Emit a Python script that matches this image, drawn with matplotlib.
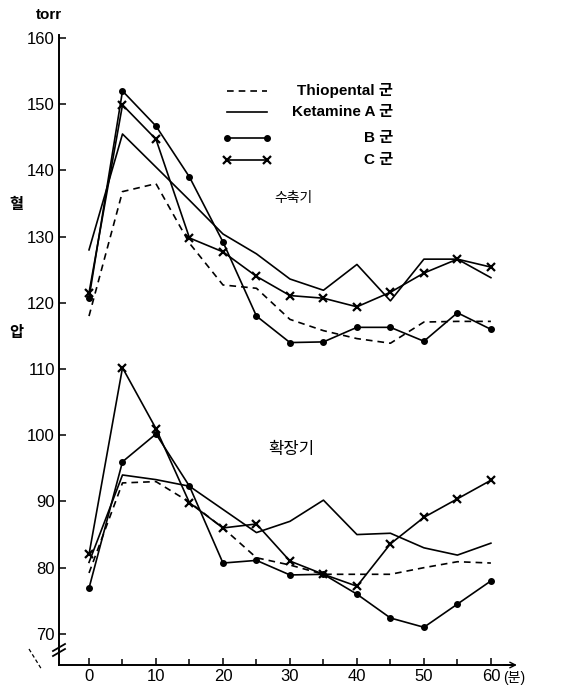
import matplotlib
matplotlib.use("Agg")
import matplotlib.pyplot as plt
from matplotlib.lines import Line2D

plt.rcParams['font.family'] = ['Liberation Sans', 'Noto Sans CJK KR']

# ---- data ----
minutes = [0, 5, 10, 15, 20, 25, 30, 35, 40, 45, 50, 55, 60]
sys_thio = [118, 136.8, 138, 129, 122.7, 122.2, 117.5, 115.8, 114.6, 113.9, 117.1, 117.2, 117.2]
sys_A = [128, 145.5, 140.5, 135.5, 130.4, 127.4, 123.6, 121.9, 125.8, 120.3, 126.6, 126.6, 123.8]
sys_B = [120.7, 152, 146.7, 139, 129.2, 118, 114, 114.1, 116.3, 116.3, 114.2, 118.5, 116]
sys_C = [121.5, 149.9, 144.7, 129.8, 127.7, 124, 121.1, 120.7, 119.4, 121.6, 124.5, 126.6, 125.4]

dia_thio = [79.2, 92.8, 93, 89.9, 86, 81.5, 80.4, 79, 79, 79, 80, 80.9, 80.7]
dia_A = [80.8, 94, 93.3, 92.3, 88.8, 85.3, 87, 90.2, 85, 85.2, 83, 81.9, 83.7]
dia_B = [76.9, 96, 100.2, 92.3, 80.7, 81.1, 78.9, 79, 76, 72.4, 71, 74.5, 78]
dia_C = [82, 110.2, 101, 89.8, 86, 86.6, 81, 79, 77.2, 83.6, 87.6, 90.4, 93.2]

y_ticks = [70, 80, 90, 100, 110, 120, 130, 140, 150, 160]
x_ticks = [0, 10, 20, 30, 40, 50, 60]
x_minor = [5, 15, 25, 35, 45, 55]
legend_labels = ["Thiopental 군", "Ketamine A 군", "B 군", "C 군"]

W, H = 567, 690
fig = plt.figure(figsize=(W / 100, H / 100), dpi=100)
fig.patch.set_facecolor('white')

def px(x, y):
    return x / W, 1 - y / H

ax = fig.add_axes([59 / W, 1 - 665 / H, (513 - 59) / W, (665 - 34.7) / H])
ax.set_xlim(-4.48, 63.3)
ax.set_ylim(65.3, 160.5)
for s in ['top', 'right']:
    ax.spines[s].set_visible(False)
for s in ['left', 'bottom']:
    ax.spines[s].set_linewidth(1.4)

lw = 1.2
dash = (0, (4, 3))
ax.plot(minutes, sys_thio, color='black', lw=lw, ls=dash)
ax.plot(minutes, sys_A, color='black', lw=lw)
ax.plot(minutes, sys_B, color='black', lw=lw, marker='o', ms=4)
ax.plot(minutes, sys_C, color='black', lw=lw, marker='x', ms=6, mew=1.6)

ax.plot(minutes, dia_thio, color='black', lw=lw, ls=dash)
ax.plot(minutes, dia_A, color='black', lw=lw)
ax.plot(minutes, dia_B, color='black', lw=lw, marker='o', ms=4)
ax.plot(minutes, dia_C, color='black', lw=lw, marker='x', ms=6, mew=1.6)

ax.set_yticks(y_ticks)
ax.set_yticklabels([str(v) for v in y_ticks], fontsize=12)
ax.set_xticks(x_ticks)
ax.set_xticklabels([str(v) for v in x_ticks], fontsize=12)
ax.set_xticks(x_minor, minor=True)
ax.tick_params(axis='both', which='major', direction='in', length=5, width=1.1, pad=3)
ax.tick_params(axis='x', which='minor', direction='in', length=4, width=1.1)

# arrow at end of x axis
ax.annotate('', xy=(64.3, 65.3), xytext=(61.5, 65.3),
            arrowprops=dict(arrowstyle='->', lw=1.0, color='black'),
            annotation_clip=False)
ax.text(61.8, 65.3 - 1.9, "(분)", fontsize=10, ha='left', va='center')

# axis break marks on y axis
for dy in (0, 5):
    x0, y0 = px(53, 656 - dy)
    x1, y1 = px(65, 649 - dy)
    fig.add_artist(Line2D([x0, x1], [y0, y1], color='black', lw=1.3))
x0, y0 = px(29, 649)
x1, y1 = px(42, 670)
fig.add_artist(Line2D([x0, x1], [y0, y1], color='black', lw=0.9, ls=(0, (3, 2))))

# axis labels
fig.text(*px(49, 15), "torr", fontsize=11, fontweight='bold', ha='center', va='center')
fig.text(*px(16, 205), "혈", fontsize=11, fontweight='bold', ha='center', va='center')
fig.text(*px(16, 333), "압", fontsize=11, fontweight='bold', ha='center', va='center')

# annotations
fig.text(*px(293, 198), "수축기", fontsize=10, ha='center', va='center')
fig.text(*px(291, 449), "확장기", fontsize=12, ha='center', va='center')

# manual legend
leg_rows = [(91, dict(ls=dash)), (112, dict()), (138, dict(marker='o', ms=4)),
            (160, dict(marker='x', ms=6, mew=1.6))]
for (yy, kw), lab in zip(leg_rows, legend_labels):
    xa, ya = px(227, yy)
    xb, yb = px(267, yy)
    fig.add_artist(Line2D([xa, xb], [ya, yb], color='black', lw=lw, **kw))
    fig.text(*px(393, yy), lab, fontsize=11, fontweight='bold', ha='right', va='center')

fig.savefig("out.png", dpi=100, facecolor='white')
